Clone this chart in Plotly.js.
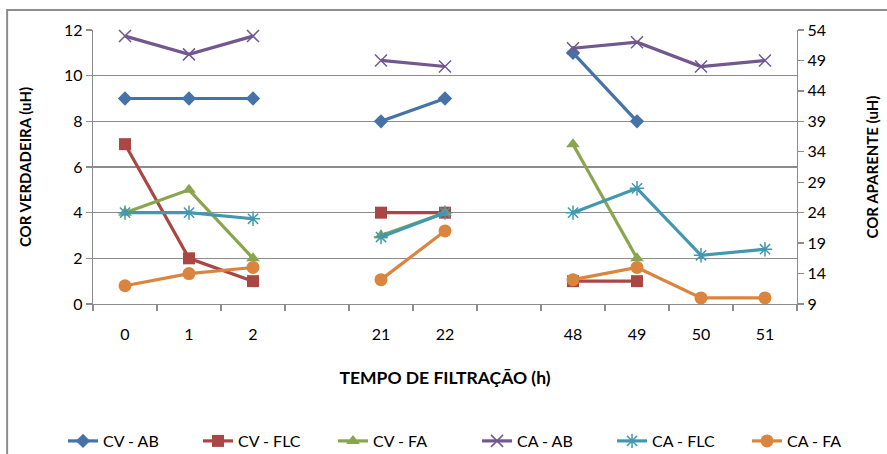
<!DOCTYPE html>
<html>
<head>
<meta charset="utf-8">
<script src="https://cdn.plot.ly/plotly-3.0.1.min.js"></script>
<style>
html,body{margin:0;padding:0;background:#fff;}
#chart{width:887px;height:454px;}
</style>
</head>
<body>
<div id="chart"></div>
<script>
// Category labels (blank slots are the gaps in the time axis)
const xLabels = ['0', '1', '2', '', '21', '22', '', '48', '49', '50', '51'];

// COR VERDADEIRA (left axis)
const cvAB  = [9, 9, 9, null, 8, 9, null, 11, 8, null, null];
const cvFLC = [7, 2, 1, null, 4, 4, null, 1, 1, null, null];
const cvFA  = [4, 5, 2, null, 3, 4, null, 7, 2, null, null];

// COR APARENTE (right axis)
const caAB  = [53, 50, 53, null, 49, 48, null, 51, 52, 48, 49];
const caFLC = [24, 24, 23, null, 20, 24, null, 24, 28, 17, 18];
const caFA  = [12, 14, 15, null, 13, 21, null, 13, 15, 10, 10];

const xPos = xLabels.map((_, i) => i);
const tickPos = xLabels.map((l, i) => i).filter(i => xLabels[i] !== '');
const tickTxt = tickPos.map(i => xLabels[i]);
const boundaries = xLabels.map((_, i) => i - 0.5).concat([xLabels.length - 0.5]);

const colors = {
  blue: '#4572A7', red: '#AA4643', green: '#89A54E',
  purple: '#71588F', teal: '#4198AF', orange: '#DB843D'
};

function series(name, y, color, symbol, size, axis, open, legend) {
  return {
    type: 'scatter', mode: 'lines+markers', name: name, legend: legend,
    x: xPos, y: y, yaxis: axis, connectgaps: false,
    line: {color: color, width: 3.2},
    marker: open
      ? {symbol: symbol, size: size, color: color, line: {color: color, width: 1.5}}
      : {symbol: symbol, size: size, color: color, line: {width: 0}},
    cliponaxis: false
  };
}

const data = [
  series('CV - AB',  cvAB,  colors.blue,   'diamond',       11, 'y',  false, 'legend'),
  series('CV - FLC', cvFLC, colors.red,    'square',        12, 'y',  false, 'legend'),
  series('CV - FA',  cvFA,  colors.green,  'triangle-up',   12, 'y',  false, 'legend'),
  series('CA - AB',  caAB,  colors.purple, 'x-thin-open',   12, 'y2', true,  'legend2'),
  series('CA - FLC', caFLC, colors.teal,   'asterisk-open', 12, 'y2', true,  'legend2'),
  series('CA - FA',  caFA,  colors.orange, 'circle',        13, 'y2', false, 'legend2'),
  // invisible helper trace carrying the boundary tick marks
  {type: 'scatter', x: [boundaries[0]], y: [null], xaxis: 'x2', showlegend: false, hoverinfo: 'skip'}
];

const font = 'Lato, "Open Sans", sans-serif';
const gridCol = '#8c8c8c';

const legendBase = {
  orientation: 'h', xanchor: 'left', y: -0.5, yanchor: 'middle',
  font: {family: font, size: 16, color: '#000'},
  entrywidth: 90, entrywidthmode: 'pixels', traceorder: 'normal'
};

const layout = {
  width: 887, height: 454,
  margin: {l: 93, r: 90, t: 30, b: 150, autoexpand: false},
  paper_bgcolor: '#ffffff', plot_bgcolor: '#ffffff',
  font: {family: font, size: 16, color: '#000'},
  showlegend: true,
  legend: Object.assign({}, legendBase, {x: -0.0426}),
  legend2: Object.assign({}, legendBase, {x: 0.5455}),
  xaxis: {
    range: [-0.5, xLabels.length - 0.5], tickmode: 'array',
    tickvals: tickPos, ticktext: tickTxt,
    ticks: 'outside', ticklen: 15, tickcolor: 'rgba(0,0,0,0)',
    showgrid: false, zeroline: false,
    showline: true, linecolor: gridCol, linewidth: 1.3,
    tickfont: {size: 16},
    title: {text: 'TEMPO DE FILTRAÇÃO (h)', font: {size: 17.5, family: font, weight: 'bold'}, standoff: 30}
  },
  xaxis2: {
    overlaying: 'x', range: [-0.5, xLabels.length - 0.5], tickmode: 'array',
    tickvals: boundaries, ticks: 'outside', ticklen: 6, tickcolor: gridCol, tickwidth: 1.3,
    showticklabels: false, showgrid: false, zeroline: false, showline: false, side: 'bottom', anchor: 'y'
  },
  yaxis: {
    range: [0, 12], dtick: 2, tick0: 0,
    ticks: 'outside', ticklen: 6, tickcolor: gridCol, tickwidth: 1.3,
    showgrid: true, gridcolor: gridCol, gridwidth: 1.3,
    zeroline: false, showline: true, linecolor: gridCol, linewidth: 1.3,
    tickfont: {size: 16},
    title: {text: 'COR VERDADEIRA (uH)', font: {size: 15, family: font, weight: 'bold'}, standoff: 28}
  },
  yaxis2: {
    overlaying: 'y', side: 'right', range: [9, 54], dtick: 5, tick0: 9,
    ticks: 'outside', ticklen: 6, tickcolor: gridCol, tickwidth: 1.3,
    showgrid: false, zeroline: false, showline: true, linecolor: gridCol, linewidth: 1.3,
    tickfont: {size: 16},
    title: {text: 'COR APARENTE (uH)', font: {size: 15, family: font, weight: 'bold'}, standoff: 42}
  },
  shapes: [{
    type: 'rect', xref: 'paper', yref: 'paper',
    x0: -0.122, x1: 1.14, y0: -0.6, y1: 1.073,
    line: {color: '#8c8c8c', width: 2}, fillcolor: 'rgba(0,0,0,0)', layer: 'below'
  }]
};

Plotly.newPlot('chart', data, layout, {displayModeBar: false, staticPlot: true});
</script>
</body>
</html>
